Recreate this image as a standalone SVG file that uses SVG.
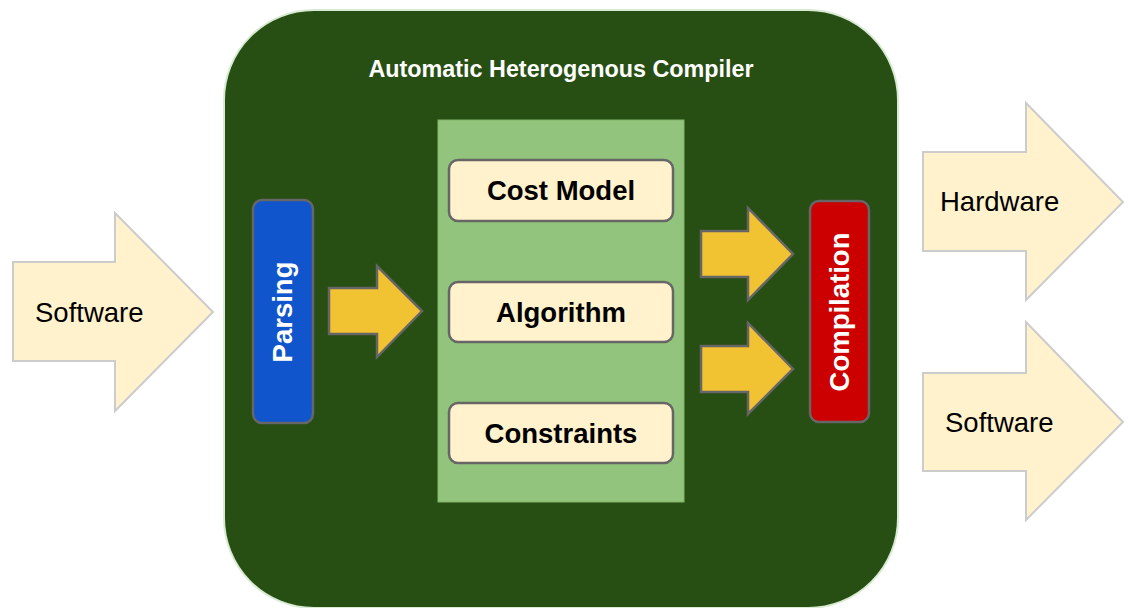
<svg xmlns="http://www.w3.org/2000/svg" width="1129" height="608" viewBox="0 0 1129 608">
<style>
.io{fill:#fff2cc;stroke:#cccccc;stroke-width:2}
.ya{fill:#f1c232;stroke:#666666;stroke-width:2.5}
.box{fill:#fff2cc;stroke:#666666;stroke-width:2.5}
.lbl{font-family:"Liberation Sans",Arial,sans-serif;font-size:27.5px;fill:#000}
.b{font-weight:bold}
.w{fill:#ffffff}
</style>
<rect width="1129" height="608" fill="#ffffff"/>
<g id="compiler">
<rect x="224" y="10" width="674" height="598" rx="90" ry="90" fill="#274e13" stroke="#d9ead3" stroke-width="2"/>
<text x="561" y="77" text-anchor="middle" class="lbl b w" style="font-size:23px" textLength="385" lengthAdjust="spacingAndGlyphs">Automatic Heterogenous Compiler</text>
</g>
<g id="core">
<rect x="438" y="120" width="246" height="382" fill="#93c47d" stroke="#82b366" stroke-width="1"/>
</g>
<g id="cost-model">
<rect x="449" y="160" width="224" height="61" rx="9" class="box"/>
<text x="561" y="200" text-anchor="middle" class="lbl b">Cost Model</text>
</g>
<g id="algorithm">
<rect x="449" y="282" width="224" height="60" rx="9" class="box"/>
<text x="561" y="322" text-anchor="middle" class="lbl b">Algorithm</text>
</g>
<g id="constraints">
<rect x="449" y="403" width="224" height="60" rx="9" class="box"/>
<text x="561" y="443" text-anchor="middle" class="lbl b">Constraints</text>
</g>
<g id="parsing">
<rect x="253" y="200" width="60" height="223" rx="9" fill="#1155cc" stroke="#666666" stroke-width="2.5"/>
<text x="283" y="321" text-anchor="middle" class="lbl b w" transform="rotate(-90 283 312)">Parsing</text>
</g>
<g id="compilation">
<rect x="810" y="201" width="59" height="221" rx="9" fill="#cc0000" stroke="#666666" stroke-width="2.5"/>
<text x="839.5" y="321.5" text-anchor="middle" class="lbl b w" transform="rotate(-90 839.5 312)">Compilation</text>
</g>
<g id="input-software">
<polygon points="13,262 115,262 115,213 213,312 115,411 115,361 13,361" class="io"/>
<text x="35" y="322" class="lbl">Software</text>
</g>
<g id="output-hardware">
<polygon points="923,152 1026,152 1026,103 1123,202 1026,300 1026,251 923,251" class="io"/>
<text x="940" y="211" class="lbl">Hardware</text>
</g>
<g id="output-software">
<polygon points="923,373 1026,373 1026,322 1123,422 1026,520 1026,471 923,471" class="io"/>
<text x="945" y="432" class="lbl">Software</text>
</g>
<g id="connectors">
<polygon points="329,288 377,288 377,266 422,311 377,357 377,334 329,334" class="ya"/>
<polygon points="701,231 748,231 748,208 793,254 748,300 748,277 701,277" class="ya"/>
<polygon points="701,346 748,346 748,323 793,369 748,414 748,392 701,392" class="ya"/>
</g>
</svg>
